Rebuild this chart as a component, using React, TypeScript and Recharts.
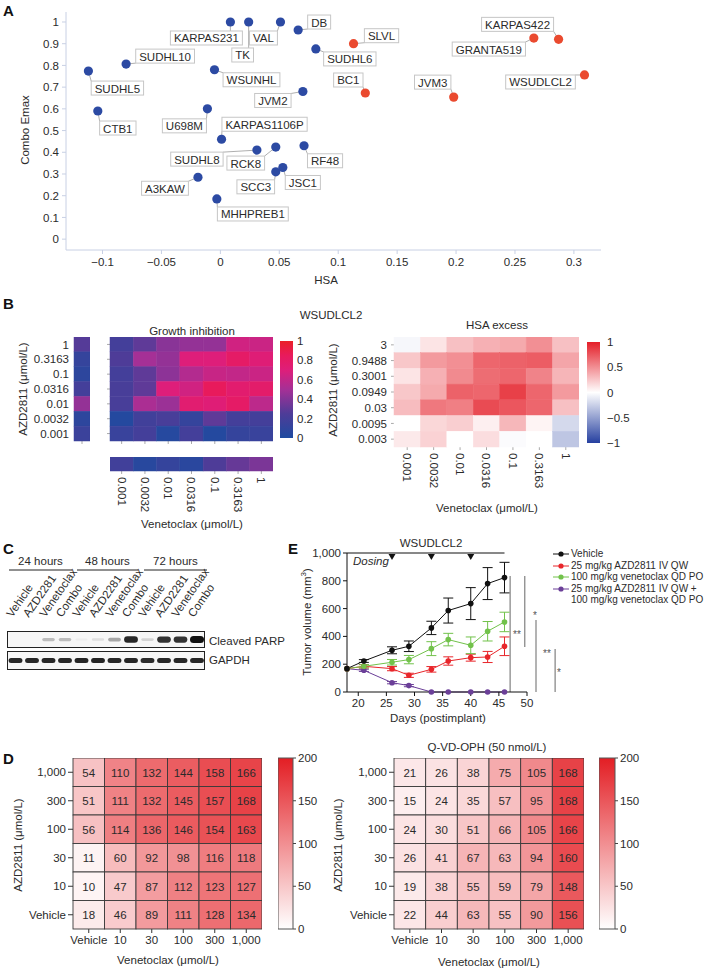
import React from "react";
import {
  ScatterChart,
  Scatter,
  XAxis,
  YAxis,
  BarChart,
  Bar,
  ComposedChart,
  Line,
  ErrorBar,
  ReferenceLine,
  ReferenceDot,
  Legend,
} from "recharts";

const FONT = '"Liberation Sans", Arial, Helvetica, sans-serif';
const INK = "#2b2b2b";
const tickStyle = { fontSize: 11.5, fill: INK, fontFamily: FONT };

// ---------- A: combo Emax vs HSA ----------
const BLUE_LINES = ["KARPAS231", "TK", "VAL", "DB", "SUDHL6", "SUDHL10", "SUDHL5", "WSUNHL", "JVM2", "CTB1", "U698M", "KARPAS1106P", "SUDHL8", "RCK8", "RF48", "SCC3", "JSC1", "A3KAW", "MHHPREB1"];
const BLUE_HSA = [0.0085, 0.024, 0.051, 0.066, 0.081, -0.08, -0.112, -0.005, 0.07, -0.104, -0.011, 0.001, 0.031, 0.047, 0.071, 0.047, 0.053, -0.019, -0.003];
const BLUE_EMAX = [1.0, 1.0, 1.0, 0.963, 0.876, 0.806, 0.774, 0.78, 0.68, 0.59, 0.6, 0.46, 0.41, 0.424, 0.43, 0.31, 0.33, 0.285, 0.185];
const RED_LINES = ["SLVL", "BC1", "JVM3", "GRANTA519", "KARPAS422", "WSUDLCL2"];
const RED_HSA = [0.113, 0.123, 0.198, 0.266, 0.287, 0.309];
const RED_EMAX = [0.9, 0.673, 0.654, 0.926, 0.92, 0.756];
const HSA_TICKS = [-0.1, -0.05, 0, 0.05, 0.1, 0.15, 0.2, 0.25, 0.3];
const EMAX_TICKS = [0, 0.1, 0.2, 0.3, 0.4, 0.5, 0.6, 0.7, 0.8, 0.9, 1];

// label box centre, offset from the dot in px
const LABEL_POS: Record<string, [number, number]> = {
  KARPAS231: [-24, 16], TK: [-6, 33], VAL: [-17, 16], DB: [21, -8], SUDHL6: [34, 10],
  SUDHL10: [39, -8], SUDHL5: [29, 17], WSUNHL: [37, 10], JVM2: [-30, 9], CTB1: [20, 17],
  U698M: [-23, 17], KARPAS1106P: [43, -15], SUDHL8: [-60, 9], RCK8: [-30, 16], RF48: [21, 15],
  SCC3: [-20, 15], JSC1: [20, 15], A3KAW: [-33, 11], MHHPREB1: [36, 15],
  SLVL: [28, -8], BC1: [-17, -13], JVM3: [-21, -15], GRANTA519: [-45, 11], KARPAS422: [-41, -15], WSUDLCL2: [-44, 7],
};

// ---------- B: WSUDLCL2 matrix ----------
const GI_AZD = ["1", "0.3163", "0.1", "0.0316", "0.01", "0.0032", "0.001"];
const GI_VEN = ["0.001", "0.0032", "0.01", "0.0316", "0.1", "0.3163", "1"];
const GI_VALUES = [
  [0.2, 0.3, 0.42, 0.45, 0.45, 0.65, 0.63],
  [0.25, 0.5, 0.45, 0.7, 0.7, 0.8, 0.72],
  [0.2, 0.3, 0.43, 0.55, 0.62, 0.6, 0.63],
  [0.22, 0.3, 0.7, 0.65, 0.85, 0.76, 0.78],
  [0.22, 0.52, 0.47, 0.75, 0.72, 0.8, 0.58],
  [0.03, 0.18, 0.22, 0.12, 0.3, 0.2, 0.2],
  [0.14, 0.2, 0.04, 0.2, 0.03, 0.12, 0.14],
];
const GI_AZD_ALONE = [0.27, 0.12, 0.08, 0.2, 0.45, 0.08, 0.15];
const GI_VEN_ALONE = [0.18, 0.05, 0.12, 0.06, 0.25, 0.32, 0.38];
const HSA_AZD = ["3", "0.9488", "0.3001", "0.0949", "0.03", "0.0095", "0.003"];
const HSA_VALUES = [
  [-0.04, 0.12, 0.28, 0.35, 0.38, 0.5, 0.28],
  [0.25, 0.45, 0.5, 0.68, 0.7, 0.72, 0.4],
  [0.12, 0.35, 0.52, 0.65, 0.68, 0.55, 0.33],
  [0.25, 0.38, 0.7, 0.68, 0.85, 0.68, 0.45],
  [0.3, 0.6, 0.57, 0.8, 0.75, 0.68, 0.28],
  [0.0, 0.18, 0.22, 0.07, 0.32, 0.05, -0.2],
  [0.1, 0.2, 0.0, 0.15, -0.02, 0.0, -0.3],
];

// ---------- C: western blot ----------
const TIMEPOINTS = ["24 hours", "48 hours", "72 hours"];
const TREATMENTS = ["Vehicle", "AZD2281", "Venetoclax", "Combo"];
const PARP = [0, 0, 0.25, 0.25, 0.04, 0.1, 0.35, 0.9, 0.15, 0.85, 0.85, 1];
const GAPDH = [0.9, 0.9, 0.9, 0.9, 0.92, 0.92, 0.9, 0.9, 0.88, 0.9, 0.9, 0.9];

// ---------- E: xenograft ----------
const DAYS = [18, 21, 26, 29, 33, 36, 40, 43, 46];
const VEH = [168, 223, 300, 329, 461, 586, 636, 780, 823];
const VEH_SE = [0, 10, 25, 38, 48, 90, 115, 115, 110];
const AZD = [168, 185, 168, 120, 163, 223, 247, 252, 329];
const AZD_SE = [0, 12, 15, 15, 20, 30, 25, 40, 67];
const VEN = [168, 185, 214, 233, 312, 377, 336, 437, 504];
const VEN_SE = [0, 12, 20, 30, 50, 45, 60, 70, 70];
const COMBO = [168, 156, 67, 46, 0, 0, 0, 0, 0];
const COMBO_SE = [0, 8, 8, 8, 0, 0, 0, 0, 0];
const DOSING_DAYS = [26, 33, 40];
const SIG = [
  { x: 47, y1: 835, y2: 0 },
  { x: 49.6, y1: 835, y2: 324 },
  { x: 51.6, y1: 518, y2: 0 },
  { x: 55, y1: 309, y2: 0 },
];
const E_SERIES = [
  { key: "veh", err: "vehE", color: "#111111", label: "Vehicle" },
  { key: "azd", err: "azdE", color: "#e8262b", label: "25 mg/kg AZD2811 IV QW" },
  { key: "ven", err: "venE", color: "#72c24b", label: "100 mg/kg venetoclax QD PO" },
  { key: "combo", err: "comboE", color: "#6b3f98", label: "25 mg/kg AZD2811 IV QW +\n100 mg/kg venetoclax QD PO" },
];

// ---------- D: caspase-dependent matrices ----------
const D_VEN = ["Vehicle", "10", "30", "100", "300", "1,000"];
const D_AZD = ["1,000", "300", "100", "30", "10", "Vehicle"];
const D_CTRL = [
  [54, 110, 132, 144, 158, 166],
  [51, 111, 132, 145, 157, 168],
  [56, 114, 136, 146, 154, 163],
  [11, 60, 92, 98, 116, 118],
  [10, 47, 87, 112, 123, 127],
  [18, 46, 89, 111, 128, 134],
];
const D_QVD = [
  [21, 26, 38, 75, 105, 168],
  [15, 24, 35, 57, 95, 168],
  [24, 30, 51, 66, 105, 166],
  [26, 41, 67, 63, 94, 160],
  [19, 38, 55, 59, 79, 148],
  [22, 44, 63, 55, 90, 156],
];

type RGB = [number, number, number];
type Stops = [number, RGB][];
const GI_STOPS: Stops = [[0, [30, 75, 160]], [0.25, [78, 60, 152]], [0.5, [165, 48, 150]], [0.7, [222, 30, 122]], [0.85, [232, 26, 92]], [1, [234, 32, 40]]];
const HSA_STOPS: Stops = [[-1, [38, 64, 160]], [0, [255, 255, 255]], [1, [228, 30, 40]]];
const D_STOPS: Stops = [[0, [255, 255, 255]], [200, [227, 30, 36]]];

const idx = (n: number) => Array.from({ length: n }, (_, i) => i);
const signed = (v: number) => {
  const s = String(Math.round(Math.abs(v) * 100) / 100);
  return v < 0 ? "\u2212" + s : s;
};

function ramp(stops: Stops) {
  return (t: number) => {
    const s = Math.max(stops[0][0], Math.min(stops[stops.length - 1][0], t));
    let i = 0;
    while (i < stops.length - 2 && s > stops[i + 1][0]) i++;
    const [a, ca] = stops[i];
    const [b, cb] = stops[i + 1];
    const f = (s - a) / (b - a);
    const c = ca.map((v, k) => Math.round(v + (cb[k] - v) * f));
    return `rgb(${c[0]},${c[1]},${c[2]})`;
  };
}

let measureCtx: CanvasRenderingContext2D | null = null;
function textW(s: string, size = 11.5) {
  if (!measureCtx) measureCtx = document.createElement("canvas").getContext("2d");
  if (!measureCtx) return s.length * size * 0.62;
  measureCtx.font = `${size}px "Liberation Sans"`;
  return measureCtx.measureText(s).width;
}

function LabelShape(p: any) {
  const { cx, cy, payload } = p;
  const [dx, dy] = LABEL_POS[payload.name] ?? [20, 12];
  const w = textW(payload.name) + 7;
  const h = 14;
  const bx = cx + dx - w / 2;
  const by = cy + dy - h / 2;
  const px = Math.min(Math.max(cx, bx), bx + w);
  const py = Math.min(Math.max(cy, by), by + h);
  return (
    <g>
      <line x1={cx} y1={cy} x2={px} y2={py} stroke="#9a9a9a" strokeWidth={0.8} />
      <rect x={bx} y={by} width={w} height={h} fill="#fff" stroke="#c6c6c6" strokeWidth={1} />
      <text x={cx + dx} y={cy + dy + 0.5} textAnchor="middle" dominantBaseline="central" style={tickStyle}>
        {payload.name}
      </text>
    </g>
  );
}

const dot = (color: string) => (p: any) => <circle cx={p.cx} cy={p.cy} r={4.6} fill={color} />;

function PanelA() {
  const blue = BLUE_LINES.map((name, i) => ({ name, hsa: BLUE_HSA[i], emax: BLUE_EMAX[i] }));
  const red = RED_LINES.map((name, i) => ({ name, hsa: RED_HSA[i], emax: RED_EMAX[i] }));
  const axis = "#c8d0e4";
  return (
    <div style={{ position: "absolute", left: 0, top: 0 }}>
      <ScatterChart width={620} height={285} margin={{ top: 12, right: 19, bottom: 0, left: 26 }}>
        <XAxis type="number" dataKey="hsa" domain={[-0.131, 0.323]} ticks={HSA_TICKS} interval={0} tickFormatter={signed} stroke={axis} tickSize={4} tickMargin={4} height={35} tick={tickStyle} />
        <YAxis type="number" dataKey="emax" domain={[-0.05, 1.046]} ticks={EMAX_TICKS} interval={0} tickFormatter={(v) => String(Math.round(v * 10) / 10)} stroke={axis} tickSize={4} tickMargin={3} width={40} tick={tickStyle} />
        <Scatter data={[...blue, ...red]} shape={LabelShape} isAnimationActive={false} />
        <Scatter data={blue} shape={dot("#2c4aa3")} isAnimationActive={false} />
        <Scatter data={red} shape={dot("#ea4a2f")} isAnimationActive={false} />
      </ScatterChart>
    </div>
  );
}

type HeatProps = {
  left: number; top: number; plotW: number; plotH: number; yw: number; xh: number;
  rows: string[]; cols: string[]; values: number[][]; color: (v: number) => string;
  yText?: boolean; yTick?: number; yGap?: number;
  xText?: "none" | "rot" | "flat"; xTick?: number; xGap?: number;
  tickColor?: string; numbers?: boolean; gridStroke?: string;
};

function Heat(p: HeatProps) {
  const nr = p.rows.length;
  const nc = p.cols.length;
  const cw = p.plotW / nc;
  const ch = p.plotH / nr;
  const data = p.values.flatMap((row, ri) => row.map((v, ci) => ({ x: ci, y: nr - 1 - ri, v })));
  const cell = (s: any) => {
    const fill = p.color(s.payload.v);
    return (
      <g>
        <rect x={s.cx - cw / 2} y={s.cy - ch / 2} width={cw} height={ch} fill={fill} stroke={p.gridStroke ?? fill} strokeWidth={p.gridStroke ? 0.9 : 0.5} />
        {p.numbers && (
          <text x={s.cx} y={s.cy + 0.5} textAnchor="middle" dominantBaseline="central" style={tickStyle}>
            {s.payload.v}
          </text>
        )}
      </g>
    );
  };
  const rotTick = (t: any) => (
    <text transform={`translate(${t.x},${t.y}) rotate(90)`} dy="0.35em" textAnchor="start" style={tickStyle}>
      {p.cols[t.payload.value]}
    </text>
  );
  const tc = p.tickColor ?? "#aaa";
  return (
    <div style={{ position: "absolute", left: p.left, top: p.top }}>
      <ScatterChart width={p.yw + p.plotW} height={p.plotH + p.xh} margin={{ top: 0, right: 0, bottom: 0, left: 0 }}>
        <XAxis
          type="number" dataKey="x" domain={[-0.5, nc - 0.5]} ticks={idx(nc)} interval={0}
          hide={p.xh === 0} height={p.xh} axisLine={false}
          tickLine={p.xTick ? { stroke: tc } : false} tickSize={p.xTick ?? 0} tickMargin={p.xGap ?? 2}
          tick={p.xText === "rot" ? rotTick : tickStyle}
          tickFormatter={(v) => (p.xText === "flat" ? p.cols[v] : "")}
        />
        <YAxis
          type="number" dataKey="y" domain={[-0.5, nr - 0.5]} ticks={idx(nr)} interval={0}
          hide={p.yw === 0} width={p.yw} axisLine={false}
          tickLine={p.yTick ? { stroke: tc } : false} tickSize={p.yTick ?? 0} tickMargin={p.yGap ?? 4}
          tick={tickStyle} tickFormatter={(v) => (p.yText ? p.rows[nr - 1 - v] : "")}
        />
        <Scatter data={data} shape={cell} isAnimationActive={false} />
      </ScatterChart>
    </div>
  );
}

type BarProps = {
  id: string; left: number; top: number; barW: number; barH: number; axisW: number;
  stops: Stops; ticks: number[]; fmt: (v: number) => string; border?: string; tickLen?: number; gap?: number;
};

function ColorBar(p: BarProps) {
  const min = p.stops[0][0];
  const max = p.stops[p.stops.length - 1][0];
  const pad = 8;
  return (
    <div style={{ position: "absolute", left: p.left, top: p.top - pad }}>
      <BarChart width={p.barW + p.axisW} height={p.barH + 2 * pad} data={[{ k: "c", r: [min, max] }]} margin={{ top: pad, right: 0, bottom: pad, left: 0 }} barCategoryGap={0} barGap={0}>
        <defs>
          <linearGradient id={p.id} x1="0" y1="1" x2="0" y2="0">
            {p.stops.map(([v, c]) => (
              <stop key={v} offset={(v - min) / (max - min)} stopColor={`rgb(${c.join(",")})`} />
            ))}
          </linearGradient>
        </defs>
        <XAxis dataKey="k" hide />
        <YAxis orientation="right" width={p.axisW} domain={[min, max]} ticks={p.ticks} interval={0} axisLine={false} tickLine={p.tickLen ? { stroke: "#444" } : false} tickSize={p.tickLen ?? 0} tickMargin={p.gap ?? 4} tickFormatter={p.fmt} tick={tickStyle} />
        <Bar dataKey="r" fill={`url(#${p.id})`} stroke={p.border ?? "none"} strokeWidth={1} isAnimationActive={false} />
      </BarChart>
    </div>
  );
}

function PanelB() {
  const gi = ramp(GI_STOPS);
  const hsa = ramp(HSA_STOPS);
  return (
    <>
      <Heat left={0} top={337} plotW={16} plotH={104} yw={74} xh={8} rows={GI_AZD} cols={["alone"]} values={GI_AZD_ALONE.map((v) => [v])} color={gi} yText yGap={5} xTick={3} />
      <Heat left={100} top={337} plotW={163} plotH={104} yw={10} xh={8} rows={GI_AZD} cols={GI_VEN} values={GI_VALUES} color={gi} yTick={3} xTick={3} />
      <Heat left={110} top={457} plotW={163} plotH={14} yw={0} xh={55} rows={["alone"]} cols={GI_VEN} values={[GI_VEN_ALONE]} color={gi} xText="rot" xTick={3} xGap={3} />
      <ColorBar id="giBar" left={280} top={341} barW={13} barH={97} axisW={30} stops={GI_STOPS} ticks={[0, 0.2, 0.4, 0.6, 0.8, 1]} fmt={(v) => String(Math.round(v * 10) / 10)} gap={4} />
      <Heat left={340} top={337} plotW={185} plotH={110} yw={54} xh={60} rows={HSA_AZD} cols={GI_VEN} values={HSA_VALUES} color={hsa} yText yTick={3} yGap={4} xText="rot" xTick={3} xGap={3} />
      <ColorBar id="hsaBar" left={587} top={342} barW={13} barH={101} axisW={35} stops={HSA_STOPS} ticks={[-1, -0.5, 0, 0.5, 1]} fmt={signed} gap={7} />
    </>
  );
}

function PanelC() {
  const lanes = idx(12).map((i) => ({ lane: i, name: TREATMENTS[i % 4], parp: PARP[i], gapdh: GAPDH[i], one: 1 }));
  const band = (key: "parp" | "gapdh") => (p: any) => {
    const v = p.payload[key];
    if (v <= 0.01) return <g />;
    const cx = p.x + p.width / 2;
    const cy = p.y + p.height / 2;
    const bh = key === "parp" ? 2 + 5 * v : 5;
    const bw = 12 + 2 * v;
    return <rect x={cx - bw / 2} y={cy - bh / 2} width={bw} height={bh} rx={bh / 2} fill="#111" fillOpacity={Math.min(1, v)} />;
  };
  const laneTick = (t: any) => (
    <text transform={`translate(${t.x - 3},52) rotate(-55)`} textAnchor="start" style={tickStyle}>
      {lanes[t.payload.value].name}
    </text>
  );
  const frame = { position: "absolute" as const, left: 7, width: 198, border: "1px solid #222", boxSizing: "border-box" as const, background: "#f6f6f6" };
  return (
    <>
      <div style={{ ...frame, top: 631, height: 17 }} />
      <div style={{ ...frame, top: 651, height: 19 }} />
      <div style={{ position: "absolute", left: 0, top: 566 }}>
        <BarChart width={245} height={82} data={lanes} margin={{ top: 5, right: 40, bottom: 0, left: 7 }} barCategoryGap={0}>
          <XAxis dataKey="lane" orientation="top" height={60} axisLine={false} tickLine={false} interval={0} tick={laneTick} />
          <YAxis hide domain={[0, 1]} />
          <Bar dataKey="one" shape={band("parp")} isAnimationActive={false} />
        </BarChart>
      </div>
      <div style={{ position: "absolute", left: 7, top: 651 }}>
        <BarChart width={198} height={19} data={lanes} margin={{ top: 0, right: 0, bottom: 0, left: 0 }} barCategoryGap={0}>
          <XAxis dataKey="lane" hide />
          <YAxis hide domain={[0, 1]} />
          <Bar dataKey="one" shape={band("gapdh")} isAnimationActive={false} />
        </BarChart>
      </div>
    </>
  );
}

function ELegend() {
  return (
    <div style={{ fontFamily: FONT, fontSize: 10, color: INK, lineHeight: "11.6px" }}>
      {E_SERIES.map((s) => (
        <div key={s.key} style={{ display: "flex", alignItems: "flex-start" }}>
          <svg width={18} height={11.6} style={{ flex: "none" }}>
            <line x1={1} x2={17} y1={6} y2={6} stroke={s.color} strokeWidth={1} />
            <circle cx={9} cy={6} r={2.6} fill={s.color} />
          </svg>
          <span style={{ marginLeft: 1, whiteSpace: "pre" }}>{s.label}</span>
        </div>
      ))}
    </div>
  );
}

function PanelE() {
  const rows = DAYS.map((day, i) => ({
    day, veh: VEH[i], vehE: VEH_SE[i], azd: AZD[i], azdE: AZD_SE[i],
    ven: VEN[i], venE: VEN_SE[i], combo: COMBO[i], comboE: COMBO_SE[i],
  }));
  const tri = (p: any) => <path d={`M${p.cx - 3.5},${p.cy + 1} L${p.cx + 3.5},${p.cy + 1} L${p.cx},${p.cy + 7} Z`} fill="#111" />;
  const drawOrder = [E_SERIES[3], E_SERIES[1], E_SERIES[2], E_SERIES[0]];
  return (
    <div style={{ position: "absolute", left: 290, top: 538 }}>
      <ComposedChart width={414} height={192} data={rows} margin={{ top: 15, right: 177, bottom: 8, left: 12 }}>
        <XAxis type="number" dataKey="day" domain={[18, 50]} ticks={[20, 25, 30, 35, 40, 45, 50]} interval={0} stroke="#111" tickSize={4} tickMargin={3} height={30} tick={tickStyle} />
        <YAxis type="number" domain={[0, 1000]} ticks={[0, 200, 400, 600, 800, 1000]} interval={0} tickFormatter={(v) => (v === 1000 ? "1,000" : String(v))} width={45} stroke="#111" tickSize={4} tickMargin={2} tick={tickStyle} />
        <ReferenceLine segment={[{ x: 18, y: 1000 }, { x: 46, y: 1000 }]} stroke="#111" ifOverflow="visible" />
        {DOSING_DAYS.map((d) => (
          <ReferenceDot key={d} x={d} y={1000} shape={tri} ifOverflow="visible" />
        ))}
        {SIG.map((s, i) => (
          <ReferenceLine key={i} segment={[{ x: s.x, y: s.y1 }, { x: s.x, y: s.y2 }]} stroke="#8a8a8a" strokeWidth={1.3} ifOverflow="visible" />
        ))}
        {drawOrder.map((s) => (
          <Line key={s.key} type="linear" dataKey={s.key} name={s.label} stroke={s.color} strokeWidth={1} dot={{ r: 2.8, fill: s.color, stroke: s.color, strokeWidth: 0 }} isAnimationActive={false}>
            <ErrorBar dataKey={s.err} width={5} stroke={s.color} strokeWidth={1} direction="y" />
          </Line>
        ))}
        <Legend layout="vertical" align="center" verticalAlign="middle" content={ELegend} wrapperStyle={{ left: 262, top: 10, width: 152 }} />
      </ComposedChart>
    </div>
  );
}

function PanelD() {
  const red = ramp(D_STOPS);
  const common = { top: 758, plotH: 171, yw: 73, xh: 25, rows: D_AZD, cols: D_VEN, color: red, yText: true, yTick: 5, yGap: 2, xText: "flat" as const, xTick: 4, xGap: 3, tickColor: "#333", numbers: true, gridStroke: "#3a3a3a" };
  const dTicks = [0, 50, 100, 150, 200];
  return (
    <>
      <Heat {...common} left={0} plotW={189} values={D_CTRL} />
      <ColorBar id="dBar1" left={278} top={758} barW={15} barH={171} axisW={30} stops={D_STOPS} ticks={dTicks} fmt={String} border="#555" tickLen={3} gap={2} />
      <Heat {...common} left={321} plotW={190} values={D_QVD} />
      <ColorBar id="dBar2" left={599} top={758} barW={16} barH={171} axisW={32} stops={D_STOPS} ticks={dTicks} fmt={String} border="#555" tickLen={3} gap={2} />
    </>
  );
}

function Overlay() {
  const t = { fontFamily: FONT, fontSize: 11.5, fill: INK } as const;
  const letter = { fontFamily: FONT, fontSize: 15, fontWeight: 700, fill: "#111" } as const;
  const T = (x: number, y: number, s: React.ReactNode, extra: any = {}) => (
    <text x={x} y={y} textAnchor="middle" dominantBaseline="central" {...t} {...extra}>{s}</text>
  );
  const R = (x: number, y: number, s: React.ReactNode) => (
    <text x={0} y={0} transform={`translate(${x},${y}) rotate(-90)`} textAnchor="middle" dominantBaseline="central" {...t}>{s}</text>
  );
  const unders: [number, number][] = [[9, 72], [77, 138], [144, 207]];
  return (
    <svg width={704} height={969} style={{ position: "absolute", left: 0, top: 0, pointerEvents: "none" }}>
      <text x={3} y={10} dominantBaseline="central" {...letter}>A</text>
      <text x={3} y={303} dominantBaseline="central" {...letter}>B</text>
      <text x={3} y={548} dominantBaseline="central" {...letter}>C</text>
      <text x={3} y={758} dominantBaseline="central" {...letter}>D</text>
      <text x={288} y={548} dominantBaseline="central" {...letter}>E</text>

      {T(326, 280, "HSA")}
      {R(25, 130, "Combo Emax")}

      {T(331, 315, "WSUDLCL2")}
      {T(192, 331, "Growth inhibition")}
      {R(23, 389, "AZD2811 (\u03bcmol/L)")}
      {T(192, 524, "Venetoclax (\u03bcmol/L)")}
      {T(497, 325, "HSA excess")}
      {R(333, 390, "AZD2811 (\u03bcmol/L)")}
      {T(487, 508, "Venetoclax (\u03bcmol/L)")}

      {TIMEPOINTS.map((s, i) => (
        <g key={s}>
          {T((unders[i][0] + unders[i][1]) / 2, 561, s)}
          <line x1={unders[i][0]} x2={unders[i][1]} y1={570} y2={570} stroke="#222" strokeWidth={1} />
        </g>
      ))}
      {T(209, 641, "Cleaved PARP", { textAnchor: "start" })}
      {T(209, 660, "GAPDH", { textAnchor: "start" })}

      {T(431, 543, "WSUDLCL2")}
      {T(353, 561, "Dosing", { textAnchor: "start", fontStyle: "italic" })}
      <text x={0} y={0} transform="translate(307,622) rotate(-90)" textAnchor="middle" dominantBaseline="central" {...t}>
        Tumor volume (mm<tspan dy={-4} fontSize={8}>3</tspan><tspan dy={4}>)</tspan>
      </text>
      {T(438, 718, "Days (postimplant)")}
      {T(517, 634, "**", { fill: "#555", fontSize: 10 })}
      {T(535, 615, "*", { fill: "#555", fontSize: 10 })}
      {T(547, 653, "**", { fill: "#555", fontSize: 10 })}
      {T(559, 672, "*", { fill: "#555", fontSize: 10 })}

      {R(18, 845, "AZD2811 (\u03bcmol/L)")}
      {T(168, 960, "Venetoclax (\u03bcmol/L)")}
      {T(487, 747, "Q-VD-OPH (50 nmol/L)")}
      {R(338, 845, "AZD2811 (\u03bcmol/L)")}
      {T(489, 962, "Venetoclax (\u03bcmol/L)")}
    </svg>
  );
}

export default function App() {
  return (
    <div style={{ position: "absolute", left: 0, top: 0, width: 704, height: 969, background: "#fff", fontFamily: FONT, overflow: "hidden" }}>
      <PanelA />
      <PanelB />
      <PanelC />
      <PanelE />
      <PanelD />
      <Overlay />
    </div>
  );
}
